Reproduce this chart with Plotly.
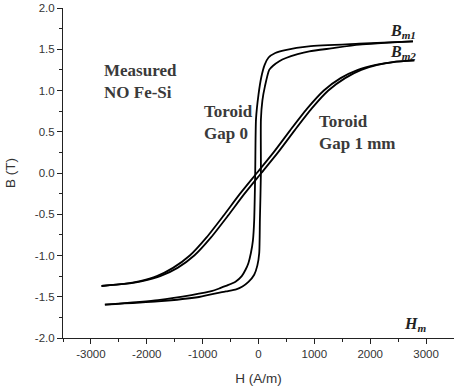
import plotly.graph_objects as go

# Toroid, gap 0 (steep loop)
gap0_desc_H = [2765, 1800, 900, 480, 300, 180, 110, 50, 0, -45, -59, -77, -100, -136, -180, -230, -300, -406, -550, -705, -826, -1200, -1800, -2750]
gap0_desc_B = [1.595, 1.567, 1.535, 1.490, 1.455, 1.40, 1.31, 1.16, 0.95, 0.65, 0.0, -0.57, -0.82, -0.97, -1.09, -1.17, -1.25, -1.314, -1.36, -1.40, -1.43, -1.48, -1.54, -1.595]
gap0_asc_H = [-2750, -1800, -1064, -585, -400, -287, -180, -77, -20, 13, 25, 43, 43, 70, 115, 192, 260, 372, 492, 700, 910, 1300, 1808, 2765]
gap0_asc_B = [-1.595, -1.556, -1.503, -1.435, -1.41, -1.375, -1.32, -1.233, -1.12, -0.97, -0.566, 0.0, 0.646, 0.88, 1.05, 1.25, 1.30, 1.355, 1.394, 1.44, 1.474, 1.51, 1.555, 1.595]

# Toroid, gap 1 mm (sheared loop)
gap1_desc_H = [2790, 2400, 2100, 1780, 1470, 1170, 870, 570, 270, -30, -330, -630, -930, -1230, -1530, -1820, -2120, -2410, -2810]
gap1_desc_B = [1.365, 1.345, 1.31, 1.25, 1.15, 1.00, 0.78, 0.52, 0.25, 0.0, -0.25, -0.52, -0.78, -1.00, -1.15, -1.25, -1.31, -1.345, -1.37]
gap1_asc_H = [-2810, -2400, -2080, -1760, -1450, -1150, -850, -550, -250, 50, 350, 650, 950, 1250, 1550, 1840, 2130, 2420, 2790]
gap1_asc_B = [-1.37, -1.345, -1.31, -1.25, -1.15, -1.00, -0.78, -0.52, -0.25, 0.0, 0.25, 0.52, 0.78, 1.00, 1.15, 1.25, 1.31, 1.345, 1.365]

x_ticks = [-3000, -2000, -1000, 0, 1000, 2000, 3000]
y_ticks = [-2.0, -1.5, -1.0, -0.5, 0.0, 0.5, 1.0, 1.5, 2.0]

fig = go.Figure()
line = dict(color="black", width=1.8, shape="spline", smoothing=0.6)
for hx, by in [(gap0_desc_H, gap0_desc_B), (gap0_asc_H, gap0_asc_B),
               (gap1_desc_H, gap1_desc_B), (gap1_asc_H, gap1_asc_B)]:
    fig.add_trace(go.Scatter(x=hx, y=by, mode="lines", line=line, showlegend=False, hoverinfo="skip"))

serif = "Liberation Serif"
txtc = "#3a3a3a"
anns = [
    dict(x=-2806, y=1.11, text="<b>Measured<br>NO Fe-Si</b>", size=17, color=txtc),
    dict(x=-1011, y=0.61, text="<b>Toroid<br>Gap 0</b>", size=17, color=txtc),
    dict(x=1054, y=0.49, text="<b>Toroid<br>Gap 1 mm</b>", size=17, color=txtc),
    dict(x=2310, y=1.72, text="<b><i>B</i></b><sub><b><i>m1</i></b></sub>", size=16, color="#222"),
    dict(x=2310, y=1.455, text="<b><i>B</i></b><sub><b><i>m2</i></b></sub>", size=16, color="#222"),
    dict(x=2562, y=-1.84, text="<b><i>H</i></b><sub><b><i>m</i></b></sub>", size=16, color="#222"),
]
for a in anns:
    fig.add_annotation(x=a["x"], y=a["y"], text=a["text"], showarrow=False, xanchor="left", yanchor="middle",
                       align="left", font=dict(family=serif, size=a["size"], color=a["color"]))

axis_common = dict(showgrid=False, zeroline=False, showline=True, linecolor="#222", linewidth=1,
                   ticks="outside", ticklen=5, tickwidth=1, tickcolor="#222", automargin=False,
                   tickfont=dict(family="Liberation Sans", size=11.5, color="#333"))
fig.update_xaxes(range=[-3500, 3500], tickvals=x_ticks, ticktext=[str(v) for v in x_ticks],
                 minor=dict(dtick=500, tick0=0, ticks="outside", ticklen=3, tickcolor="#222"),
                 title=dict(text="H (A/m)", font=dict(family="Liberation Sans", size=13.5, color="#333"), standoff=14),
                 **axis_common)
fig.update_yaxes(range=[-2.0, 2.0], tickvals=y_ticks, ticktext=[f"{v:.1f}" for v in y_ticks],
                 minor=dict(dtick=0.25, tick0=0, ticks="outside", ticklen=3, tickcolor="#222"),
                 title=dict(text="B (T)", font=dict(family="Liberation Sans", size=13.5, color="#333"), standoff=16),
                 **axis_common)
fig.update_layout(width=454, height=386, margin=dict(l=63, r=0, t=8, b=48),
                  paper_bgcolor="white", plot_bgcolor="white")
fig.write_html("out.html")
